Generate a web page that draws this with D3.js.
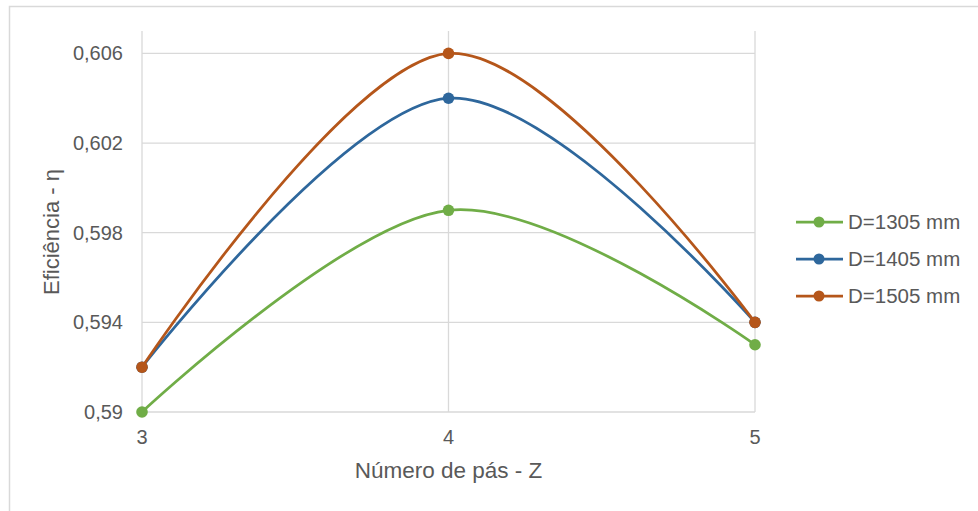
<!DOCTYPE html>
<html>
<head>
<meta charset="utf-8">
<script src="https://cdn.jsdelivr.net/npm/d3@7"></script>
<style>
  body { margin: 0; background: #fff; }
  text { font-family: "Liberation Sans", Arial, sans-serif; fill: #595959; }
</style>
</head>
<body>
<div id="chart"></div>
<script>
// data
var zValues = [3, 4, 5];
var yTicks = [0.59, 0.594, 0.598, 0.602, 0.606];
var seriesNames = ["D=1305 mm", "D=1405 mm", "D=1505 mm"];
var d1305 = [0.590, 0.599, 0.593];
var d1405 = [0.592, 0.604, 0.594];
var d1505 = [0.592, 0.606, 0.594];
var colors = ["#70ad47", "#2e679c", "#b5561a"];

var width = 978, height = 511;
var margin = {top: 31, right: 223, bottom: 99, left: 142};

var svg = d3.select("#chart").append("svg")
  .attr("width", width).attr("height", height);

// outer border
svg.append("rect")
  .attr("x", 9.5).attr("y", 6.5)
  .attr("width", width).attr("height", height)
  .attr("fill", "none").attr("stroke", "#d9d9d9").attr("stroke-width", 1.5);

var x = d3.scaleLinear().domain([3, 5]).range([margin.left, width - margin.right]);
var y = d3.scaleLinear().domain([0.59, 0.607]).range([height - margin.bottom, margin.top]);

// gridlines
svg.append("g").selectAll("line.h")
  .data(yTicks).join("line")
  .attr("x1", margin.left).attr("x2", width - margin.right)
  .attr("y1", d => y(d)).attr("y2", d => y(d))
  .attr("stroke", "#d9d9d9").attr("stroke-width", 1.3);

svg.append("g").selectAll("line.v")
  .data(zValues).join("line")
  .attr("x1", d => x(d)).attr("x2", d => x(d))
  .attr("y1", margin.top).attr("y2", y(0.59))
  .attr("stroke", "#d9d9d9").attr("stroke-width", 1.3);

// tick labels
var fmt = d => d3.format(".3~f")(d).replace(".", ",");
svg.append("g").selectAll("text")
  .data(yTicks).join("text")
  .attr("x", margin.left - 19).attr("y", d => y(d))
  .attr("dy", "0.35em").attr("text-anchor", "end")
  .attr("font-size", 20).text(fmt);

svg.append("g").selectAll("text")
  .data(zValues).join("text")
  .attr("x", d => x(d)).attr("y", y(0.59) + 32)
  .attr("text-anchor", "middle").attr("font-size", 20)
  .text(d => d);

// axis titles
svg.append("text")
  .attr("x", (margin.left + width - margin.right) / 2).attr("y", 478)
  .attr("text-anchor", "middle").attr("font-size", 22.5)
  .text("Número de pás - Z");

svg.append("text")
  .attr("transform", "translate(59,232) rotate(-90)")
  .attr("text-anchor", "middle").attr("font-size", 22)
  .text("Eficiência - η");

// lines
var series = [d1305, d1405, d1505].map((vals, i) => ({
  name: seriesNames[i], color: colors[i],
  points: vals.map((v, j) => ({z: zValues[j], v: v}))
}));

var line = d3.line()
  .x(d => x(d.z)).y(d => y(d.v))
  .curve(d3.curveCardinal.tension(0));

var g = svg.append("g").selectAll("g")
  .data(series).join("g");

g.append("path")
  .attr("d", d => line(d.points))
  .attr("fill", "none")
  .attr("stroke", d => d.color).attr("stroke-width", 2.75);

g.selectAll("circle")
  .data(d => d.points.map(p => ({p: p, color: d.color})))
  .join("circle")
  .attr("cx", d => x(d.p.z)).attr("cy", d => y(d.p.v))
  .attr("r", 5.8).attr("fill", d => d.color);

// legend
var legend = svg.append("g").selectAll("g")
  .data(series).join("g")
  .attr("transform", (d, i) => `translate(796,${222 + i * 37})`);

legend.append("line")
  .attr("x1", 0).attr("x2", 47)
  .attr("stroke", d => d.color).attr("stroke-width", 2.75);
legend.append("circle")
  .attr("cx", 23).attr("r", 5.5).attr("fill", d => d.color);
legend.append("text")
  .attr("x", 52).attr("dy", "0.35em").attr("font-size", 20.5)
  .text(d => d.name);
</script>
</body>
</html>
